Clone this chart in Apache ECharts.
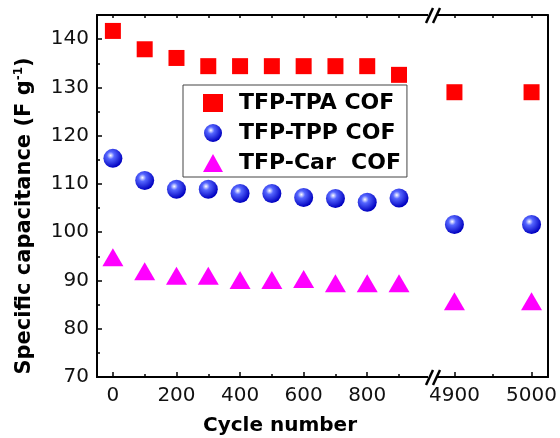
<!DOCTYPE html>
<html lang="en">
<head>
    <meta charset="UTF-8">
    <title>Specific capacitance vs cycle number</title>
    <style>
        * { padding: 0; margin: 0; }
        #main { width: 560px; height: 438px; }
    </style>
    <script src="https://cdn.jsdelivr.net/npm/echarts@6/dist/echarts.min.js"></script>
</head>
<body>
<div id="main"></div>
<script>
    // data
    var cycles = [0, 100, 200, 300, 400, 500, 600, 700, 800, 900, 4900, 5000];
    var tpa = [141.7, 137.9, 136.1, 134.4, 134.4, 134.4, 134.4, 134.4, 134.4, 132.6, 129.0, 129.0];
    var tpp = [115.3, 110.7, 108.9, 108.9, 108.0, 108.0, 107.2, 107.0, 106.2, 107.1, 101.6, 101.6];
    var car = [94.8, 91.9, 91.0, 91.0, 90.1, 90.1, 90.3, 89.4, 89.4, 89.4, 85.7, 85.7];
    var names = ['TFP-TPA COF', 'TFP-TPP COF', 'TFP-Car  COF'];
    var xTicksLeft = [0, 200, 400, 600, 800];
    var xMinorLeft = [100, 300, 500, 700, 900];
    var xTicksRight = [4900, 5000];
    var xMinorRight = [4950];
    var yTicks = [70, 80, 90, 100, 110, 120, 130, 140];
    var yMinor = [75, 85, 95, 105, 115, 125, 135, 145];
    var breakAt = 1000; // cycles after this go to the right panel

    var FONT = 'DejaVu Sans';

    function pairs(values, right) {
        return cycles.map(function (c, i) { return [c, values[i]]; })
            .filter(function (p) { return right ? p[0] > breakAt : p[0] <= breakAt; });
    }

    var sphere = {
        type: 'radial', x: 0.38, y: 0.35, r: 0.65,
        colorStops: [
            { offset: 0, color: '#ffffff' },
            { offset: 0.3, color: '#5566ff' },
            { offset: 1, color: '#0000c0' }
        ]
    };

    var styles = [
        { symbol: 'rect', symbolSize: 16, itemStyle: { color: '#ff0000', opacity: 1 } },
        { symbol: 'circle', symbolSize: 19, itemStyle: { color: sphere, opacity: 1 } },
        { symbol: 'triangle', symbolSize: [21, 18], itemStyle: { color: '#ff00ff', opacity: 1 } }
    ];
    var values = [tpa, tpp, car];

    var line = { show: true, onZero: false, lineStyle: { color: '#000', width: 2 } };

    function xAxis(grid, pos, min, max, ticks, len, labels) {
        return {
            type: 'value', gridIndex: grid, position: pos, min: min, max: max,
            axisLine: line,
            splitLine: { show: false },
            axisTick: { show: true, inside: true, length: len, customValues: ticks,
                lineStyle: { color: '#000', width: 1.5 } },
            axisLabel: labels ? {
                show: true, customValues: labels, margin: 9,
                fontFamily: FONT, fontSize: 20, color: '#111',
                formatter: function (v) { return String(v); }
            } : { show: false }
        };
    }

    var series = [];
    [false, true].forEach(function (right) {
        values.forEach(function (v, k) {
            series.push({
                name: names[k],
                type: 'scatter',
                xAxisIndex: right ? 3 : 0,
                yAxisIndex: right ? 2 : 0,
                symbol: styles[k].symbol,
                symbolSize: styles[k].symbolSize,
                itemStyle: styles[k].itemStyle,
                data: pairs(v, right)
            });
        });
    });

    var myChart = echarts.init(document.getElementById('main'));

    var option = {
        animation: false,
        grid: [
            { left: 97, right: 126, top: 15, bottom: 61 },
            { left: 434, right: 11, top: 15, bottom: 61 }
        ],
        xAxis: [
            xAxis(0, 'bottom', -50, 1010, xTicksLeft, 5, xTicksLeft),
            xAxis(0, 'bottom', -50, 1010, xMinorLeft, 3, null),
            xAxis(0, 'top', -50, 1010, xTicksLeft.concat(xMinorLeft), 3, null),
            xAxis(1, 'bottom', 4873.5, 5021, xTicksRight, 5, xTicksRight),
            xAxis(1, 'bottom', 4873.5, 5021, xMinorRight, 3, null),
            xAxis(1, 'top', 4873.5, 5021, xTicksRight.concat(xMinorRight), 3, null)
        ],
        yAxis: [
            {
                type: 'value', gridIndex: 0, min: 70, max: 145, position: 'left',
                axisLine: line,
                splitLine: { show: false },
                axisTick: { show: true, inside: true, length: 5, customValues: yTicks,
                    lineStyle: { color: '#000', width: 1.5 } },
                axisLabel: { customValues: yTicks, margin: 8, fontFamily: FONT, fontSize: 20, color: '#111' },
                name: '{b|Specific capacitance (F g}{s|-1}{b|)}',
                nameLocation: 'middle',
                nameGap: 60,
                nameTextStyle: {
                    padding: [0, 40, 0, 0],
                    rich: {
                        b: { fontFamily: FONT, fontSize: 21, fontWeight: 'bold', color: '#000', lineHeight: 24 },
                        s: { fontFamily: FONT, fontSize: 12, fontWeight: 'bold', color: '#000', verticalAlign: 'top', lineHeight: 14 }
                    }
                }
            },
            {
                type: 'value', gridIndex: 0, min: 70, max: 145, position: 'left', offset: 0,
                axisLine: { show: false, onZero: false },
                splitLine: { show: false },
                axisTick: { show: true, inside: true, length: 3, customValues: yMinor,
                    lineStyle: { color: '#000', width: 1.5 } },
                axisLabel: { show: false }
            },
            {
                type: 'value', gridIndex: 1, min: 70, max: 145, position: 'right',
                axisLine: line,
                splitLine: { show: false },
                axisTick: { show: false },
                axisLabel: { show: false }
            }
        ],
        legend: {
            data: names,
            orient: 'vertical',
            left: 183,
            top: 85,
            padding: [6, 6, 2, 20],
            itemGap: 6,
            itemWidth: 20,
            itemHeight: 18,
            itemTextGap: 5,
            borderColor: '#444',
            borderWidth: 1,
            borderRadius: 0,
            textStyle: { fontFamily: FONT, fontSize: 22, fontWeight: 'bold', color: '#000', lineHeight: 24,
                padding: [0, 0, 0, 11] }
        },
        graphic: [
            {
                type: 'text', left: 'center', top: 416,
                style: { text: 'Cycle number', fontFamily: FONT, fontSize: 20, fontWeight: 'bold', fill: '#000', x: 45 }
            },
            // break marks
            { type: 'rect', shape: { x: 428, y: 12, width: 9, height: 6 }, style: { fill: '#fff' }, z: 10 },
            { type: 'line', shape: { x1: 426, y1: 23, x2: 433, y2: 8 }, style: { stroke: '#000', lineWidth: 2.5 }, z: 11 },
            { type: 'line', shape: { x1: 433, y1: 23, x2: 440, y2: 8 }, style: { stroke: '#000', lineWidth: 2.5 }, z: 11 },
            { type: 'rect', shape: { x: 428, y: 374, width: 9, height: 6 }, style: { fill: '#fff' }, z: 10 },
            { type: 'line', shape: { x1: 426, y1: 385, x2: 433, y2: 370 }, style: { stroke: '#000', lineWidth: 2.5 }, z: 11 },
            { type: 'line', shape: { x1: 433, y1: 385, x2: 440, y2: 370 }, style: { stroke: '#000', lineWidth: 2.5 }, z: 11 }
        ],
        series: series
    };

    myChart.setOption(option);
</script>
</body>
</html>
